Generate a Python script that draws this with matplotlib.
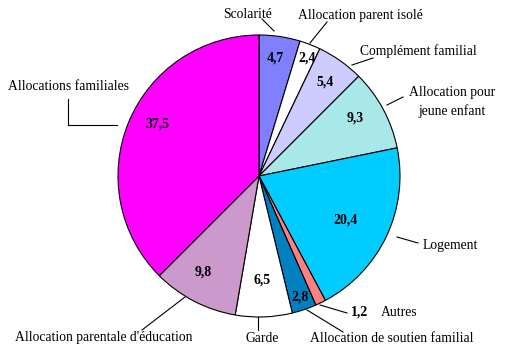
import matplotlib
matplotlib.use("Agg")
import matplotlib.pyplot as plt

categories = ["Scolarité", "Allocation parent isolé", "Complément familial",
              "Allocation pour\njeune enfant", "Logement", "Autres",
              "Allocation de soutien familial", "Garde",
              "Allocation parentale d'éducation", "Allocations familiales"]
values = [4.7, 2.4, 5.4, 9.3, 20.4, 1.2, 2.8, 6.5, 9.8, 37.5]
value_labels = ["4,7", "2,4", "5,4", "9,3", "20,4", "1,2", "2,8", "6,5", "9,8", "37,5"]
colors = ["#8080FF", "#FFFFFF", "#CCCCFF", "#A8E8E8", "#00CCFF", "#FF8080",
          "#0080C0", "#FFFFFF", "#CC99CC", "#FF00FF"]

plt.rcParams['font.family'] = ['Liberation Serif', 'DejaVu Serif']

fig = plt.figure(figsize=(5.18, 3.53), dpi=100)
ax = fig.add_axes([0, 0, 1, 1])

ax.pie(values, colors=colors, startangle=-90, counterclock=True,
       center=(259, 176), radius=141, frame=True,
       wedgeprops=dict(edgecolor='black', linewidth=0.8))
ax.set_xlim(0, 518)
ax.set_ylim(353, 0)
ax.axis('off')

# value label positions (pixels)
vpos = [(275, 58), (307, 58), (325, 82), (355, 118), (345, 220), (360, 312),
        (300, 297), (262, 280), (203, 272), (158, 124)]
for (x, y), t in zip(vpos, value_labels):
    ax.text(x, y, t, ha='center', va='center', fontsize=10, fontweight='bold')

# category labels and leader lines
lpos = [(247, 14, 'center'), (360, 15, 'center'), (418, 51, 'center'),
        (452, 102, 'center'), (450, 245, 'center'), (381, 312, 'left'),
        (392, 338, 'center'), (262, 338, 'center'), (104, 338, 'center'),
        (68, 87, 'center')]
for (x, y, ha), t in zip(lpos, categories):
    ax.text(x, y, t, ha=ha, va='center', fontsize=9.8, linespacing=1.45)

lines = [[(262, 19), (274, 31)], [(327, 22), (310, 43)], [(373, 58), (352, 65)],
         [(403, 97), (387, 105)], [(397, 237), (418, 243)], [(320, 305), (347, 313)],
         [(307, 310), (343, 332)], [(258, 317), (258, 330)], [(185, 297), (142, 330)],
         [(68, 99), (68, 125), (117, 125)]]
for pts in lines:
    xs, ys = zip(*pts)
    ax.plot(xs, ys, color='black', linewidth=0.8)

fig.savefig("out.png", dpi=100)
